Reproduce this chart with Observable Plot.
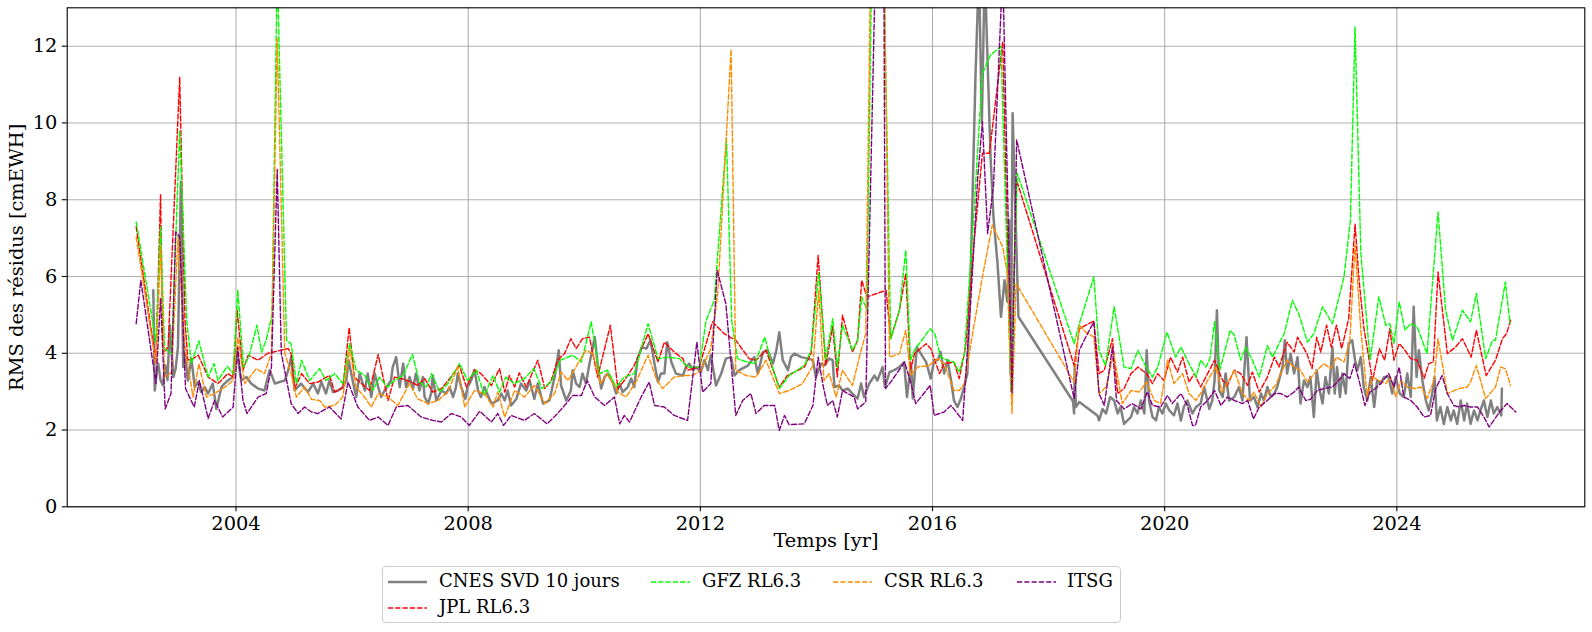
<!DOCTYPE html>
<html><head><meta charset="utf-8">
<script src="https://cdn.jsdelivr.net/npm/d3@7"></script>
<script src="https://cdn.jsdelivr.net/npm/@observablehq/plot@0.6"></script>
<style>
body{margin:0;background:#fff;font-family:"DejaVu Serif",serif;}
#wrap{position:relative;width:1592px;height:632px;overflow:hidden;}
#legend{position:absolute;left:382px;top:566px;width:739px;height:57px;border:1px solid #cccccc;border-radius:4px;box-sizing:border-box;font-size:18px;color:#000;background:#fff;}
.lh{position:absolute;}
.lt{position:absolute;white-space:nowrap;line-height:20px;}
</style></head><body><div id="wrap"><div id="chart"></div><div id="legend"></div></div>
<script>
// ---- data: [year, RMS cmEWH] ----
const cnes = [[2002.575,5.64],[2002.60,3.03],[2002.63,3.45],[2002.66,3.73],[2002.70,3.3],[2002.74,3.17],[2002.78,3.69],[2002.82,3.3],[2002.86,4.73],[2002.92,3.38],[2002.96,3.6],[2003.00,4.16],[2003.05,8.47],[2003.09,3.64],[2003.12,3.99],[2003.17,3.29],[2003.23,3.86],[2003.29,3.12],[2003.35,3.25],[2003.40,2.99],[2003.46,3.12],[2003.52,2.95],[2003.60,3.21],[2003.66,2.55],[2003.75,3.12],[2003.80,3.21],[2003.86,3.29],[2003.95,3.38],[2004.01,4.08],[2004.09,3.29],[2004.18,3.38],[2004.26,3.21],[2004.38,3.08],[2004.49,3.03],[2004.58,3.56],[2004.67,3.21],[2004.75,3.25],[2004.84,3.29],[2004.90,3.56],[2004.95,3.90],[2005.01,3.03],[2005.12,3.21],[2005.24,2.99],[2005.33,3.21],[2005.41,2.95],[2005.47,3.25],[2005.55,2.95],[2005.61,3.29],[2005.67,2.99],[2005.76,3.03],[2005.84,3.12],[2005.90,3.29],[2005.94,3.82],[2006.01,3.29],[2006.07,2.86],[2006.13,3.47],[2006.22,3.03],[2006.27,3.47],[2006.33,2.86],[2006.39,3.47],[2006.45,3.12],[2006.50,2.86],[2006.56,3.03],[2006.67,3.29],[2006.70,3.64],[2006.76,3.90],[2006.82,3.12],[2006.88,3.73],[2006.93,3.12],[2006.99,3.38],[2007.05,3.08],[2007.10,3.47],[2007.16,3.03],[2007.22,3.38],[2007.25,2.86],[2007.31,2.69],[2007.36,2.95],[2007.39,3.42],[2007.45,2.77],[2007.54,3.03],[2007.62,2.95],[2007.68,3.12],[2007.74,2.86],[2007.79,3.12],[2007.82,3.47],[2007.88,3.12],[2007.95,2.81],[2007.99,3.12],[2008.05,3.29],[2008.11,3.56],[2008.17,3.03],[2008.22,2.86],[2008.28,3.12],[2008.40,2.69],[2008.51,2.77],[2008.57,2.95],[2008.63,2.77],[2008.68,3.03],[2008.74,2.64],[2008.83,2.81],[2008.91,3.21],[2009.00,3.03],[2009.06,3.29],[2009.14,2.81],[2009.20,3.21],[2009.29,2.69],[2009.40,2.77],[2009.49,3.38],[2009.56,4.08],[2009.60,3.16],[2009.69,2.77],[2009.77,3.03],[2009.80,3.56],[2009.86,3.21],[2009.92,3.12],[2009.97,3.47],[2010.03,3.21],[2010.09,3.73],[2010.18,4.42],[2010.23,3.73],[2010.29,3.08],[2010.35,3.38],[2010.40,3.47],[2010.49,3.25],[2010.55,2.95],[2010.61,3.21],[2010.66,2.99],[2010.75,3.12],[2010.81,3.34],[2010.86,3.12],[2010.92,3.86],[2010.99,4.16],[2011.07,4.12],[2011.14,4.34],[2011.21,3.73],[2011.27,3.25],[2011.32,3.47],[2011.38,3.47],[2011.43,4.29],[2011.50,3.77],[2011.58,3.47],[2011.70,3.42],[2011.75,3.64],[2011.81,3.73],[2011.87,3.56],[2011.93,3.64],[2012.01,3.51],[2012.07,3.82],[2012.13,3.56],[2012.18,3.95],[2012.27,3.16],[2012.36,3.47],[2012.44,3.86],[2012.53,3.90],[2012.59,3.42],[2012.67,3.56],[2012.82,3.68],[2012.93,3.90],[2012.99,3.47],[2013.08,4.03],[2013.16,4.08],[2013.25,3.73],[2013.31,4.08],[2013.36,4.55],[2013.42,3.82],[2013.51,3.56],[2013.56,3.90],[2013.62,3.99],[2013.74,3.90],[2013.85,3.86],[2013.94,3.82],[2013.99,3.38],[2014.08,3.73],[2014.13,3.68],[2014.22,3.86],[2014.28,3.82],[2014.31,3.12],[2014.39,3.16],[2014.45,3.03],[2014.54,3.08],[2014.62,2.95],[2014.71,2.82],[2014.77,3.21],[2014.82,2.86],[2014.91,3.21],[2015.00,3.42],[2015.05,3.29],[2015.14,3.64],[2015.18,3.12],[2015.26,3.51],[2015.34,3.56],[2015.43,3.64],[2015.51,3.77],[2015.56,2.86],[2015.63,3.73],[2015.66,2.82],[2015.73,4.16],[2015.80,3.99],[2015.89,3.77],[2015.97,3.34],[2016.03,3.82],[2016.09,3.82],[2016.14,4.03],[2016.20,3.47],[2016.26,3.82],[2016.32,3.29],[2016.37,2.77],[2016.43,2.60],[2016.49,2.82],[2016.55,3.16],[2016.60,3.47],[2016.66,6.25],[2016.74,11.2],[2016.80,14],[2016.85,10],[2016.90,14],[2017.00,9.12],[2017.05,7.56],[2017.12,6.34],[2017.18,4.95],[2017.24,5.9],[2017.29,5.34],[2017.32,7.47],[2017.35,3.47],[2017.38,10.25],[2017.48,4.95],[2018.42,2.75],[2018.44,2.43],[2018.45,3.64],[2018.47,2.6],[2018.53,2.73],[2018.84,2.38],[2018.87,2.25],[2018.93,2.55],[2018.99,2.43],[2019.06,2.86],[2019.13,2.77],[2019.19,2.43],[2019.24,2.6],[2019.30,2.16],[2019.36,2.25],[2019.42,2.34],[2019.47,2.6],[2019.53,2.43],[2019.59,2.77],[2019.65,2.43],[2019.69,4.08],[2019.73,2.77],[2019.79,2.34],[2019.85,2.25],[2019.90,2.6],[2019.96,2.43],[2020.02,2.69],[2020.08,2.51],[2020.16,2.38],[2020.22,2.69],[2020.28,2.25],[2020.33,2.6],[2020.39,2.77],[2020.48,2.43],[2020.54,2.6],[2020.62,2.69],[2020.68,3.12],[2020.77,2.55],[2020.82,2.77],[2020.86,3.29],[2020.90,5.12],[2020.94,3.03],[2021.00,2.86],[2021.05,3.47],[2021.11,2.77],[2021.20,2.86],[2021.28,3.12],[2021.34,2.77],[2021.41,4.42],[2021.47,2.77],[2021.54,2.86],[2021.60,2.6],[2021.66,2.95],[2021.71,2.77],[2021.77,3.12],[2021.83,2.86],[2021.89,2.95],[2021.94,3.12],[2022.03,3.64],[2022.07,4.34],[2022.11,3.47],[2022.17,3.99],[2022.23,3.47],[2022.29,3.9],[2022.34,2.69],[2022.40,3.29],[2022.46,3.12],[2022.51,3.38],[2022.57,2.34],[2022.62,3.56],[2022.66,3.12],[2022.72,2.69],[2022.77,3.38],[2022.83,2.95],[2022.89,4.16],[2022.93,2.95],[2022.97,3.64],[2023.02,2.86],[2023.06,3.47],[2023.12,2.95],[2023.17,4.25],[2023.23,4.34],[2023.28,3.82],[2023.32,3.56],[2023.38,3.90],[2023.43,3.12],[2023.49,2.77],[2023.55,3.38],[2023.61,2.60],[2023.66,3.29],[2023.72,3.21],[2023.78,3.38],[2023.86,3.38],[2023.92,2.95],[2023.98,3.38],[2024.05,2.95],[2024.12,2.86],[2024.18,3.47],[2024.24,2.86],[2024.29,5.21],[2024.34,3.38],[2024.38,4.08],[2024.44,3.29],[2024.50,2.77],[2024.55,2.51],[2024.61,2.95],[2024.65,3.38],[2024.69,2.25],[2024.75,2.60],[2024.81,2.16],[2024.87,2.60],[2024.93,2.25],[2024.98,2.51],[2025.04,2.16],[2025.10,2.77],[2025.16,2.25],[2025.21,2.69],[2025.27,2.16],[2025.33,2.51],[2025.39,2.25],[2025.44,2.51],[2025.50,2.77],[2025.56,2.34],[2025.62,2.77],[2025.67,2.43],[2025.73,2.60],[2025.80,2.38],[2025.81,3.08]];

const jpl = [[2002.28,7.3],[2002.62,3.77],[2002.70,8.14],[2002.74,3.99],[2002.83,4.16],[2003.03,11.19],[2003.12,4.86],[2003.17,3.82],[2003.26,3.86],[2003.35,3.95],[2003.52,3.38],[2003.69,3.21],[2003.86,3.47],[2003.95,3.38],[2004.02,5.12],[2004.12,3.56],[2004.21,3.95],[2004.38,3.82],[2004.55,4.0],[2004.78,4.08],[2004.90,4.12],[2004.95,3.99],[2005.01,3.08],[2005.13,3.47],[2005.27,3.21],[2005.41,3.25],[2005.61,3.42],[2005.70,2.99],[2005.84,3.1],[2005.95,4.67],[2006.04,3.38],[2006.16,3.21],[2006.30,3.03],[2006.45,3.97],[2006.62,2.77],[2006.73,3.38],[2006.85,3.34],[2007.02,3.25],[2007.13,3.16],[2007.25,3.34],[2007.39,2.99],[2007.54,3.08],[2007.68,3.34],[2007.85,3.68],[2007.97,3.12],[2008.11,3.57],[2008.22,3.47],[2008.40,3.16],[2008.54,3.6],[2008.63,2.99],[2008.71,3.42],[2008.80,3.12],[2008.88,3.49],[2009.00,3.12],[2009.20,3.82],[2009.32,3.08],[2009.43,3.29],[2009.54,3.82],[2009.66,3.99],[2009.77,4.38],[2009.86,4.12],[2009.97,4.38],[2010.09,4.42],[2010.23,3.38],[2010.45,4.73],[2010.58,3.08],[2010.69,3.29],[2010.86,3.68],[2011.10,4.51],[2011.27,3.77],[2011.38,4.29],[2011.55,4.03],[2011.70,3.86],[2011.78,3.56],[2011.98,3.64],[2012.21,4.82],[2012.41,4.51],[2012.61,4.34],[2012.84,3.86],[2012.96,3.82],[2013.13,4.08],[2013.36,3.12],[2013.50,3.42],[2013.79,3.64],[2013.91,4.0],[2014.03,6.55],[2014.16,3.68],[2014.28,4.7],[2014.36,3.38],[2014.45,4.99],[2014.62,4.03],[2014.71,4.34],[2014.78,5.9],[2014.87,5.47],[2015.20,5.64],[2015.28,4.38],[2015.43,5.12],[2015.54,6.08],[2015.62,3.56],[2015.69,3.99],[2015.89,4.25],[2015.97,4.12],[2016.12,3.47],[2016.20,3.73],[2016.37,3.77],[2016.46,3.34],[2016.57,4.16],[2016.72,6.95],[2016.86,9.21],[2016.98,9.21],[2017.21,12.12],[2017.35,2.99],[2017.45,8.51],[2018.44,3.68],[2018.53,4.64],[2018.78,4.84],[2018.87,3.47],[2018.96,3.56],[2019.10,4.38],[2019.19,2.95],[2019.30,3.08],[2019.42,3.47],[2019.54,3.64],[2019.69,3.47],[2019.79,3.21],[2019.88,3.47],[2019.99,3.29],[2020.10,3.9],[2020.22,3.51],[2020.31,3.9],[2020.42,3.25],[2020.51,3.47],[2020.62,3.12],[2020.74,3.47],[2020.86,3.82],[2021.00,3.29],[2021.08,3.16],[2021.20,3.56],[2021.31,3.47],[2021.43,3.16],[2021.51,3.51],[2021.63,2.99],[2021.77,3.38],[2021.89,3.9],[2021.97,3.64],[2022.11,4.29],[2022.23,4.03],[2022.29,4.42],[2022.45,3.99],[2022.54,3.6],[2022.62,4.42],[2022.69,4.03],[2022.79,4.73],[2022.87,4.16],[2022.96,4.73],[2023.05,4.12],[2023.17,4.9],[2023.28,7.36],[2023.35,5.9],[2023.43,4.69],[2023.58,3.29],[2023.70,4.12],[2023.79,3.82],[2023.88,4.64],[2023.95,3.82],[2024.04,4.25],[2024.12,4.12],[2024.24,3.86],[2024.35,3.82],[2024.47,3.34],[2024.55,3.73],[2024.63,3.77],[2024.71,6.12],[2024.87,3.99],[2025.01,4.16],[2025.13,4.38],[2025.28,3.9],[2025.37,4.6],[2025.54,3.42],[2025.70,3.82],[2025.82,4.38],[2025.89,4.51],[2025.96,4.86]];

const gfz = [[2002.28,7.42],[2002.62,4.3],[2002.70,7.3],[2002.77,4.1],[2002.89,4.0],[2003.03,9.81],[2003.15,4.86],[2003.23,3.73],[2003.36,4.32],[2003.52,3.38],[2003.62,3.73],[2003.69,3.29],[2003.85,3.66],[2003.95,3.47],[2004.03,5.65],[2004.13,3.64],[2004.22,3.9],[2004.36,4.73],[2004.44,4.03],[2004.52,4.34],[2004.62,5.0],[2004.71,14],[2004.87,4.34],[2004.95,4.25],[2005.04,3.21],[2005.13,3.82],[2005.27,3.29],[2005.44,3.6],[2005.55,3.29],[2005.70,3.47],[2005.84,3.21],[2005.96,4.25],[2006.07,3.56],[2006.22,3.42],[2006.36,3.03],[2006.47,3.38],[2006.61,3.12],[2006.73,3.29],[2006.88,3.42],[2007.04,3.97],[2007.16,3.25],[2007.28,3.12],[2007.37,3.47],[2007.51,2.99],[2007.65,3.21],[2007.85,3.73],[2007.99,3.29],[2008.14,3.56],[2008.28,2.90],[2008.43,3.42],[2008.54,2.99],[2008.65,3.38],[2008.80,3.21],[2008.97,3.34],[2009.13,3.60],[2009.27,3.08],[2009.43,3.25],[2009.59,3.82],[2009.80,3.95],[2009.95,3.77],[2010.12,4.82],[2010.26,3.47],[2010.40,3.56],[2010.55,3.12],[2010.69,3.38],[2010.86,3.47],[2011.10,4.77],[2011.27,3.86],[2011.44,3.90],[2011.64,3.86],[2011.78,3.64],[2011.98,3.64],[2012.10,4.86],[2012.24,5.38],[2012.45,9.6],[2012.54,4.86],[2012.64,3.86],[2012.81,3.77],[2012.94,3.73],[2013.11,4.42],[2013.22,3.77],[2013.36,3.08],[2013.53,3.42],[2013.79,3.68],[2013.91,4.08],[2014.04,6.1],[2014.16,3.82],[2014.28,4.9],[2014.36,3.64],[2014.45,4.73],[2014.62,4.08],[2014.71,4.34],[2014.78,5.47],[2014.87,5.12],[2014.96,15],[2015.15,15],[2015.28,4.38],[2015.43,5.12],[2015.54,6.69],[2015.62,3.82],[2015.69,4.08],[2015.96,4.64],[2016.04,4.51],[2016.14,3.9],[2016.26,3.82],[2016.37,3.77],[2016.46,3.51],[2016.55,3.99],[2016.69,7.12],[2016.86,11.29],[2017.00,11.77],[2017.18,11.99],[2017.35,3.03],[2017.46,8.69],[2018.44,4.25],[2018.53,4.77],[2018.78,5.99],[2018.87,4.08],[2018.98,3.68],[2019.13,5.21],[2019.30,3.64],[2019.42,3.6],[2019.54,4.08],[2019.65,3.73],[2019.79,3.38],[2019.88,3.64],[2020.04,4.55],[2020.19,3.9],[2020.28,4.16],[2020.39,3.82],[2020.54,3.38],[2020.62,3.82],[2020.71,3.64],[2020.78,3.86],[2020.86,4.82],[2020.95,3.56],[2021.13,4.6],[2021.20,4.47],[2021.31,3.82],[2021.40,4.16],[2021.51,3.82],[2021.63,3.38],[2021.77,4.2],[2021.86,3.9],[2021.97,4.25],[2022.06,4.51],[2022.20,5.38],[2022.32,4.99],[2022.46,4.29],[2022.57,4.51],[2022.72,5.21],[2022.89,4.77],[2023.09,5.99],[2023.20,7.47],[2023.28,12.5],[2023.38,6.6],[2023.54,3.82],[2023.69,5.47],[2023.81,4.73],[2023.88,4.77],[2023.95,4.25],[2024.04,5.34],[2024.14,4.6],[2024.24,4.77],[2024.35,4.69],[2024.52,3.99],[2024.71,7.68],[2024.84,5.12],[2024.96,4.34],[2025.13,5.12],[2025.27,4.82],[2025.37,5.56],[2025.53,3.86],[2025.65,4.34],[2025.70,4.34],[2025.87,5.86],[2025.95,4.77]];

const csr = [[2002.28,7.03],[2002.62,3.73],[2002.70,6.77],[2002.77,3.38],[2002.89,3.5],[2003.00,7.03],[2003.12,4.16],[2003.26,2.86],[2003.36,3.73],[2003.49,2.86],[2003.63,2.95],[2003.81,3.12],[2003.95,3.29],[2004.03,4.42],[2004.15,3.21],[2004.35,3.6],[2004.49,3.47],[2004.61,4.0],[2004.71,12.2],[2004.84,4.0],[2004.95,3.47],[2005.04,2.86],[2005.18,3.12],[2005.30,2.8],[2005.44,2.77],[2005.53,2.6],[2005.70,2.64],[2005.84,2.86],[2005.96,4.12],[2006.07,3.12],[2006.24,2.81],[2006.33,2.6],[2006.45,2.95],[2006.62,2.86],[2006.79,2.64],[2006.99,3.21],[2007.13,2.81],[2007.31,2.69],[2007.48,2.77],[2007.65,2.99],[2007.82,3.64],[2007.94,2.6],[2008.11,3.03],[2008.28,2.95],[2008.43,2.6],[2008.51,2.99],[2008.63,2.34],[2008.80,3.03],[2008.97,2.86],[2009.14,3.16],[2009.32,2.69],[2009.49,2.95],[2009.60,3.51],[2009.72,3.29],[2009.89,3.73],[2010.03,4.08],[2010.15,3.99],[2010.28,3.21],[2010.40,3.47],[2010.58,2.99],[2010.72,2.86],[2010.89,3.25],[2011.10,3.95],[2011.24,3.34],[2011.35,3.08],[2011.55,3.38],[2011.73,3.42],[2011.87,3.42],[2012.01,3.56],[2012.18,4.12],[2012.30,5.56],[2012.53,11.92],[2012.61,3.56],[2012.79,3.42],[2012.96,3.38],[2013.13,3.82],[2013.36,2.95],[2013.53,3.03],[2013.76,3.21],[2013.94,3.68],[2014.04,5.64],[2014.13,3.29],[2014.22,3.47],[2014.34,2.86],[2014.45,3.56],[2014.62,3.16],[2014.77,4.08],[2014.85,4.51],[2014.94,15],[2015.16,15],[2015.26,3.9],[2015.43,3.99],[2015.54,4.6],[2015.62,3.42],[2015.74,3.64],[2015.94,3.68],[2016.09,3.86],[2016.20,3.73],[2016.37,3.03],[2016.46,3.03],[2016.55,3.21],[2016.69,4.51],[2016.86,5.99],[2017.03,7.34],[2017.21,6.77],[2017.29,6.08],[2017.37,2.43],[2017.44,5.82],[2018.44,3.25],[2018.53,4.73],[2018.64,4.55],[2018.78,4.42],[2018.87,2.95],[2018.99,3.12],[2019.12,3.99],[2019.27,2.69],[2019.42,3.03],[2019.56,2.99],[2019.69,3.25],[2019.82,2.77],[2019.93,2.69],[2020.05,3.82],[2020.16,3.21],[2020.31,3.47],[2020.42,2.95],[2020.54,2.77],[2020.65,3.03],[2020.74,3.29],[2020.88,3.64],[2020.99,2.99],[2021.11,3.29],[2021.20,3.56],[2021.34,2.95],[2021.45,2.77],[2021.54,2.99],[2021.66,2.6],[2021.77,2.95],[2021.91,3.16],[2022.00,3.47],[2022.11,3.82],[2022.23,3.64],[2022.34,3.56],[2022.46,3.25],[2022.63,3.56],[2022.74,3.73],[2022.86,3.6],[2022.96,3.9],[2023.09,3.77],[2023.19,4.34],[2023.28,6.82],[2023.38,4.6],[2023.49,2.86],[2023.58,3.38],[2023.70,3.29],[2023.81,3.21],[2023.89,3.38],[2023.98,2.86],[2024.07,3.29],[2024.18,3.12],[2024.32,3.08],[2024.42,3.12],[2024.52,2.82],[2024.64,3.29],[2024.71,4.38],[2024.87,2.95],[2025.07,3.08],[2025.21,3.12],[2025.27,3.25],[2025.37,3.68],[2025.53,2.82],[2025.70,3.12],[2025.79,3.64],[2025.87,3.6],[2025.96,3.16]];

const itsg = [[2002.28,4.77],[2002.36,5.9],[2002.62,3.21],[2002.70,5.43],[2002.78,2.55],[2002.88,2.95],[2002.96,7.16],[2003.03,7.03],[2003.13,3.08],[2003.28,2.6],[2003.37,3.29],[2003.52,2.30],[2003.63,2.77],[2003.77,2.34],[2003.95,2.6],[2004.03,4.16],[2004.12,2.77],[2004.19,2.43],[2004.38,2.86],[2004.52,2.95],[2004.61,3.64],[2004.71,8.79],[2004.78,4.0],[2004.95,2.69],[2005.07,2.43],[2005.18,2.6],[2005.30,2.47],[2005.41,2.43],[2005.61,2.6],[2005.81,2.29],[2005.93,3.25],[2006.10,2.6],[2006.30,2.25],[2006.45,2.34],[2006.62,2.12],[2006.76,2.6],[2006.96,2.64],[2007.19,2.34],[2007.39,2.25],[2007.54,2.21],[2007.71,2.43],[2007.88,2.34],[2008.02,2.12],[2008.20,2.49],[2008.40,2.21],[2008.51,2.43],[2008.61,2.12],[2008.74,2.38],[2008.97,2.25],[2009.14,2.43],[2009.36,2.16],[2009.54,2.43],[2009.69,2.69],[2009.80,2.9],[2009.95,2.9],[2010.05,3.29],[2010.18,2.86],[2010.35,2.64],[2010.52,2.86],[2010.61,2.16],[2010.69,2.38],[2010.78,2.21],[2010.98,2.86],[2011.12,3.25],[2011.21,2.64],[2011.38,2.6],[2011.55,2.38],[2011.78,2.25],[2011.94,4.29],[2012.04,2.99],[2012.18,3.21],[2012.29,6.16],[2012.44,5.29],[2012.61,2.38],[2012.73,2.77],[2012.87,2.95],[2012.96,2.43],[2013.10,2.64],[2013.28,2.64],[2013.36,1.99],[2013.45,2.38],[2013.53,2.14],[2013.79,2.16],[2013.94,2.64],[2014.03,3.9],[2014.12,3.12],[2014.19,2.64],[2014.28,2.77],[2014.36,2.34],[2014.45,3.03],[2014.65,2.86],[2014.71,2.55],[2014.85,2.73],[2015.03,15],[2015.16,15],[2015.19,3.08],[2015.28,3.25],[2015.52,3.77],[2015.63,3.21],[2015.71,2.69],[2015.96,3.16],[2016.03,2.38],[2016.12,2.43],[2016.20,2.47],[2016.32,2.64],[2016.43,2.43],[2016.52,2.25],[2016.66,5.38],[2016.78,8.6],[2016.86,10.03],[2016.95,7.12],[2017.05,8.34],[2017.21,14],[2017.37,2.95],[2017.45,9.56],[2018.44,2.82],[2018.53,4.08],[2018.64,4.42],[2018.78,4.82],[2018.87,2.95],[2018.96,2.64],[2019.10,4.16],[2019.17,2.77],[2019.30,2.55],[2019.44,2.69],[2019.59,2.55],[2019.70,2.99],[2019.79,2.64],[2019.93,2.6],[2020.05,2.9],[2020.13,2.69],[2020.28,2.95],[2020.39,2.64],[2020.48,2.12],[2020.53,2.12],[2020.62,2.6],[2020.74,2.77],[2020.86,3.03],[2020.97,2.64],[2021.08,2.86],[2021.20,2.77],[2021.34,2.69],[2021.43,2.77],[2021.53,2.29],[2021.63,2.6],[2021.77,2.77],[2021.89,2.95],[2022.00,2.95],[2022.11,2.86],[2022.23,2.99],[2022.31,3.12],[2022.43,2.77],[2022.51,2.8],[2022.63,3.03],[2022.74,3.08],[2022.89,3.12],[2023.00,3.29],[2023.09,3.47],[2023.19,3.34],[2023.27,3.73],[2023.35,3.29],[2023.45,2.64],[2023.54,2.99],[2023.63,3.08],[2023.72,3.21],[2023.86,3.47],[2023.95,3.12],[2024.04,3.64],[2024.12,2.86],[2024.24,2.77],[2024.35,2.6],[2024.47,2.34],[2024.58,2.38],[2024.67,3.08],[2024.78,3.42],[2024.87,2.95],[2024.98,2.64],[2025.07,2.6],[2025.16,2.64],[2025.27,2.6],[2025.39,2.6],[2025.50,2.34],[2025.59,2.08],[2025.67,2.25],[2025.79,2.51],[2025.90,2.69],[2026.05,2.47]];

const seriesNames = ["CNES SVD 10 jours", "JPL RL6.3", "GFZ RL6.3", "CSR RL6.3", "ITSG"];
const seriesColors = ["#808080", "#ff0000", "#00ff00", "#ff8c00", "#800080"];
const xTicks = [2004, 2008, 2012, 2016, 2020, 2024];
const yTicks = [0, 2, 4, 6, 8, 10, 12];
const xLabel = "Temps [yr]";
const yLabel = "RMS des résidus [cmEWH]";

// ---- build ----
const seriesData = [cnes, jpl, gfz, csr, itsg];
const rows = [];
seriesData.forEach((arr, i) => arr.forEach(([t, v]) => rows.push({s: seriesNames[i], t, v})));
const [t0, t1] = d3.extent(rows, d => d.t);
const pad = (t1 - t0) * 0.05;

const dash = "5.1,2.2";
const lineMarks = seriesNames.map((name, i) => {
  const opts = {x: "t", y: "v", stroke: seriesColors[i], strokeWidth: i === 0 ? 2.5 : 1.4, clip: true, strokeLinejoin: "round"};
  if (i > 0) opts.strokeDasharray = dash;
  return Plot.line(rows.filter(r => r.s === name), opts);
});

const chart = Plot.plot({
  width: 1592, height: 560,
  marginLeft: 66.7, marginRight: 7.7, marginTop: 7.3, marginBottom: 53.7,
  x: {domain: [t0 - pad, t1 + pad]},
  y: {domain: [0, 13]},
  style: {fontFamily: "DejaVu Serif", fontSize: "19.4px", color: "black", background: "white"},
  marks: [
    Plot.gridX(xTicks, {stroke: "#b0b0b0", strokeOpacity: 1, strokeWidth: 1.1}),
    Plot.gridY(yTicks, {stroke: "#b0b0b0", strokeOpacity: 1, strokeWidth: 1.1}),
    ...lineMarks,
    Plot.frame({stroke: "black", strokeWidth: 1.1}),
    Plot.axisX(xTicks, {tickSize: 4.9, tickPadding: 4.9, tickFormat: d => String(d), label: null, strokeWidth: 1.1}),
    Plot.axisY(yTicks, {tickSize: 4.9, tickPadding: 4.9, tickFormat: d => String(d), label: null, strokeWidth: 1.1}),
    Plot.text([xLabel], {frameAnchor: "bottom", dy: 40, text: d => d, fontSize: 19.4, textAnchor: "middle"}),
    Plot.text([yLabel], {frameAnchor: "left", dx: -50, rotate: -90, text: d => d, fontSize: 19.4, textAnchor: "middle"})
  ]
});
document.getElementById("chart").appendChild(chart);

// ---- legend (4 columns, column-major like matplotlib) ----
const legendLayout = [
  {i: 0, hx: 5, tx: 56, y: 15},
  {i: 1, hx: 5, tx: 56, y: 41},
  {i: 2, hx: 268, tx: 319, y: 15},
  {i: 3, hx: 450, tx: 501, y: 15},
  {i: 4, hx: 634, tx: 684, y: 15}
];
const legend = document.getElementById("legend");
legendLayout.forEach(({i, hx, tx, y}) => {
  const svg = d3.create("svg").attr("class", "lh").attr("width", 39).attr("height", 10)
    .style("left", hx + "px").style("top", (y - 5) + "px");
  svg.append("line").attr("x1", 0).attr("x2", 39).attr("y1", 5).attr("y2", 5)
    .attr("stroke", seriesColors[i]).attr("stroke-width", i === 0 ? 2.5 : 1.4)
    .attr("stroke-dasharray", i === 0 ? null : dash);
  legend.appendChild(svg.node());
  const t = document.createElement("div");
  t.className = "lt";
  t.style.left = tx + "px";
  t.style.top = (y - 11) + "px";
  t.textContent = seriesNames[i];
  legend.appendChild(t);
});
</script>
</body></html>
